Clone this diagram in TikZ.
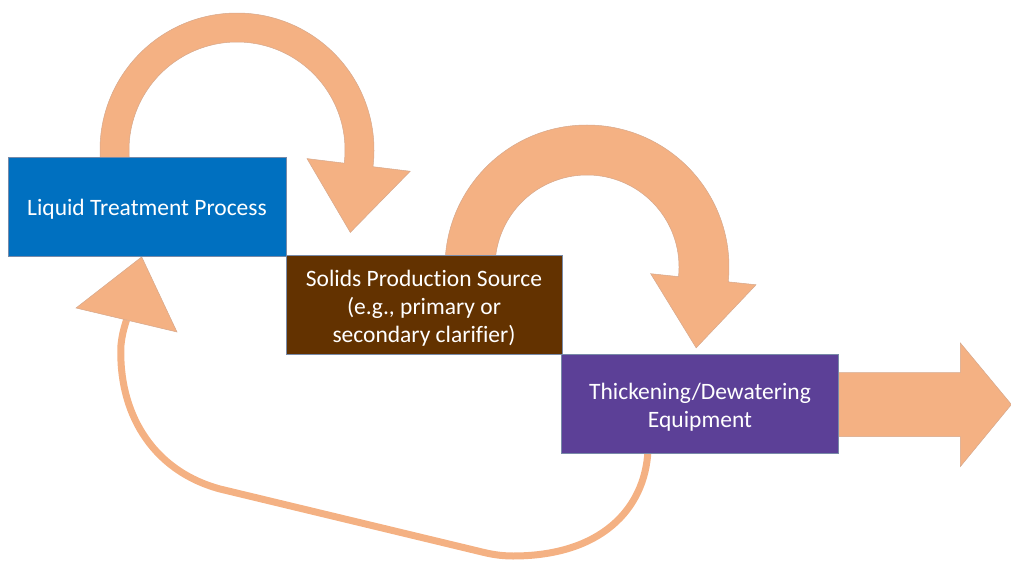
\documentclass[tikz,border=0pt]{standalone}
\usepackage{fontspec}
\setmainfont{Carlito}[Ligatures=NoCommon]
\usetikzlibrary{calc,backgrounds}
\definecolor{peach}{RGB}{244,177,131}
\definecolor{peachedge}{RGB}{214,168,140}
\definecolor{boxblue}{RGB}{0,112,192}
\definecolor{boxbrown}{RGB}{99,50,0}
\definecolor{boxpurple}{RGB}{92,64,151}
\definecolor{boxedge}{RGB}{120,138,168}
\begin{document}
\begin{tikzpicture}[x=1pt,y=-1pt,
  flow/.style={fill=peach, draw=peachedge, line width=0.5pt, line join=miter},
  loopline/.style={draw=peach, line width=7pt},
  procbox/.style={rectangle, draw=boxedge, line width=0.8pt, inner sep=0pt, minimum height=99pt},
  boxtext/.style={text=white, align=center, inner sep=0pt,
    font=\fontsize{23.5}{28}\selectfont},
]
\useasboundingbox (0,0) rectangle (1011,561);

% process boxes
\node[procbox, fill=boxblue, minimum width=278pt] (ltp) at (147,206.5) {};
\node[procbox, fill=boxbrown, minimum width=276pt] (sps) at (424,305) {};
\node[procbox, fill=boxpurple, minimum width=277pt] (ptd) at (700,403.5) {};
\node[boxtext] (ltpt) at ($(ltp.center)+(0,3)$) {Liquid Treatment Process};
\node[boxtext] (spst) at ($(sps.center)+(0,3)$) {Solids Production Source\\(e.g., primary or\\secondary clarifier)};
\node[boxtext] (ptdt) at ($(ptd.center)+(0,3.5)$) {Thickening/Dewatering\\Equipment};

\begin{pgfonlayer}{background}
% arc arrow from Liquid Treatment Process to Solids Production Source
\coordinate (C1) at (237,150);
\path[flow] ($(C1)+(-185:137)$) arc[start angle=-185,end angle=7,radius=137]
  -- ($(C1)+(7:174.5)$) -- ($(C1)+(7:122.5)+(97:68)$) -- ($(C1)+(7:70.5)$)
  -- ($(C1)+(7:108)$) arc[start angle=7,end angle=-185,radius=108] -- cycle;

% arc arrow from Solids Production Source to Thickening/Dewatering Equipment
\coordinate (C2) at (587,267);
\path[flow] ($(C2)+(-180:142)$) arc[start angle=-180,end angle=6,radius=142]
  -- ($(C2)+(6:170)$) -- ($(C2)+(6:117)+(96:69)$) -- ($(C2)+(6:64)$)
  -- ($(C2)+(6:92)$) arc[start angle=6,end angle=-180,radius=92] -- cycle;

% outgoing block arrow
\path[flow] ($(ptd.east)+(-2,-31)$) -- ($(ptd.east)+(121.5,-31)$) -- ($(ptd.east)+(121.5,-60.5)$)
  -- ($(ptd.east)+(172.5,1)$) -- ($(ptd.east)+(121.5,63)$) -- ($(ptd.east)+(121.5,33)$)
  -- ($(ptd.east)+(-2,33)$) -- cycle;

% recycle loop back to Liquid Treatment Process
\coordinate (ls) at ($(ptd.south)+(-52,-3)$);
\coordinate (hb) at (126.5,320);
\draw[loopline] (ls) .. controls (645,510) and (600,556) .. (513,556)
  .. controls (500,556) and (490,554) .. (480,551.5) -- (220,489)
  .. controls (150,470) and (118,410) .. (121,345)
  .. controls (122,335) and (124,328) .. (hb);
\path[flow] (76,308) -- ($(ltp.south)+(-5.3,0.5)$) -- (177,332) -- cycle;
\end{pgfonlayer}
\end{tikzpicture}
\end{document}
